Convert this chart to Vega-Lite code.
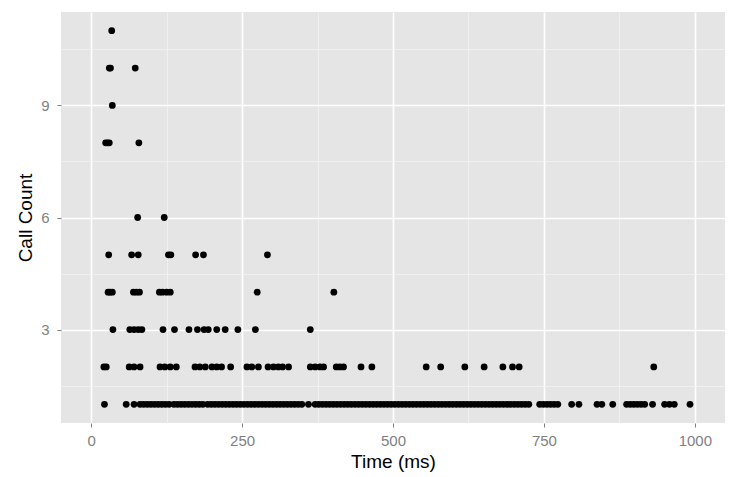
{
  "$schema": "https://vega.github.io/schema/vega-lite/v6.json",
  "width": 664,
  "height": 411,
  "autosize": "none",
  "padding": {"left": 61, "top": 12, "right": 20, "bottom": 54},
  "background": "white",
  "config": {
    "view": {"fill": "#E5E5E5", "stroke": null},
    "font": "Liberation Sans",
    "axis": {
      "domain": false,
      "tickColor": "#7F7F7F",
      "tickWidth": 1,
      "tickSize": 4,
      "labelColor": "#7F7F7F",
      "labelFont": "Liberation Sans",
      "labelFontSize": 15,
      "titleFont": "Liberation Sans",
      "titleFontSize": 19,
      "titleFontWeight": "normal",
      "titleColor": "#000000"
    }
  },
  "data": {
    "values": [
      {"t": 34, "c": 11},
      {"t": 30, "c": 10}, {"t": 32, "c": 10}, {"t": 73, "c": 10},
      {"t": 35, "c": 9},
      {"t": 24, "c": 8}, {"t": 27, "c": 8}, {"t": 30, "c": 8}, {"t": 79, "c": 8},
      {"t": 77, "c": 6}, {"t": 121, "c": 6},
      {"t": 29, "c": 5}, {"t": 67, "c": 5}, {"t": 78, "c": 5}, {"t": 128, "c": 5}, {"t": 132, "c": 5}, {"t": 173, "c": 5}, {"t": 186, "c": 5}, {"t": 292, "c": 5},
      {"t": 28, "c": 4}, {"t": 31, "c": 4}, {"t": 35, "c": 4}, {"t": 70, "c": 4}, {"t": 75, "c": 4}, {"t": 80, "c": 4}, {"t": 113, "c": 4}, {"t": 118, "c": 4}, {"t": 125, "c": 4}, {"t": 131, "c": 4}, {"t": 275, "c": 4}, {"t": 402, "c": 4},
      {"t": 36, "c": 3}, {"t": 64, "c": 3}, {"t": 71, "c": 3}, {"t": 78, "c": 3}, {"t": 84, "c": 3}, {"t": 119, "c": 3}, {"t": 138, "c": 3}, {"t": 162, "c": 3}, {"t": 176, "c": 3}, {"t": 187, "c": 3}, {"t": 194, "c": 3}, {"t": 208, "c": 3}, {"t": 222, "c": 3}, {"t": 243, "c": 3}, {"t": 272, "c": 3}, {"t": 363, "c": 3},
      {"t": 21, "c": 2}, {"t": 25, "c": 2}, {"t": 63, "c": 2}, {"t": 71, "c": 2}, {"t": 81, "c": 2}, {"t": 114, "c": 2}, {"t": 122, "c": 2}, {"t": 131, "c": 2}, {"t": 141, "c": 2}, {"t": 172, "c": 2}, {"t": 180, "c": 2}, {"t": 189, "c": 2}, {"t": 200, "c": 2}, {"t": 208, "c": 2}, {"t": 216, "c": 2}, {"t": 231, "c": 2}, {"t": 258, "c": 2}, {"t": 266, "c": 2}, {"t": 277, "c": 2}, {"t": 293, "c": 2}, {"t": 302, "c": 2}, {"t": 310, "c": 2}, {"t": 317, "c": 2}, {"t": 327, "c": 2}, {"t": 363, "c": 2}, {"t": 371, "c": 2}, {"t": 379, "c": 2}, {"t": 385, "c": 2}, {"t": 406, "c": 2}, {"t": 412, "c": 2}, {"t": 418, "c": 2}, {"t": 447, "c": 2}, {"t": 465, "c": 2}, {"t": 555, "c": 2}, {"t": 579, "c": 2}, {"t": 619, "c": 2}, {"t": 651, "c": 2}, {"t": 682, "c": 2}, {"t": 698, "c": 2}, {"t": 709, "c": 2}, {"t": 932, "c": 2},
      {"t": 22, "c": 1}, {"t": 58, "c": 1}, {"t": 71, "c": 1}, {"t": 81, "c": 1}, {"t": 87, "c": 1}, {"t": 93, "c": 1}, {"t": 99, "c": 1}, {"t": 105, "c": 1}, {"t": 111, "c": 1}, {"t": 117, "c": 1}, {"t": 123, "c": 1}, {"t": 129, "c": 1}, {"t": 137, "c": 1}, {"t": 143, "c": 1}, {"t": 149, "c": 1}, {"t": 155, "c": 1}, {"t": 161, "c": 1}, {"t": 167, "c": 1}, {"t": 173, "c": 1}, {"t": 179, "c": 1}, {"t": 185, "c": 1}, {"t": 193, "c": 1}, {"t": 199, "c": 1}, {"t": 205, "c": 1}, {"t": 211, "c": 1}, {"t": 217, "c": 1}, {"t": 223, "c": 1}, {"t": 229, "c": 1}, {"t": 235, "c": 1}, {"t": 241, "c": 1}, {"t": 247, "c": 1},
      {"t": 253, "c": 1}, {"t": 259, "c": 1}, {"t": 265, "c": 1}, {"t": 271, "c": 1}, {"t": 277, "c": 1}, {"t": 283, "c": 1}, {"t": 289, "c": 1}, {"t": 295, "c": 1}, {"t": 301, "c": 1}, {"t": 307, "c": 1}, {"t": 313, "c": 1}, {"t": 319, "c": 1}, {"t": 325, "c": 1}, {"t": 331, "c": 1}, {"t": 337, "c": 1}, {"t": 343, "c": 1}, {"t": 349, "c": 1}, {"t": 360, "c": 1}, {"t": 371, "c": 1}, {"t": 377, "c": 1}, {"t": 383, "c": 1}, {"t": 389, "c": 1}, {"t": 395, "c": 1}, {"t": 401, "c": 1}, {"t": 407, "c": 1}, {"t": 413, "c": 1}, {"t": 419, "c": 1}, {"t": 425, "c": 1}, {"t": 431, "c": 1}, {"t": 437, "c": 1}, {"t": 443, "c": 1}, {"t": 449, "c": 1}, {"t": 455, "c": 1}, {"t": 461, "c": 1}, {"t": 467, "c": 1}, {"t": 473, "c": 1}, {"t": 479, "c": 1}, {"t": 485, "c": 1}, {"t": 491, "c": 1}, {"t": 497, "c": 1}, {"t": 503, "c": 1}, {"t": 509, "c": 1}, {"t": 515, "c": 1}, {"t": 521, "c": 1}, {"t": 527, "c": 1}, {"t": 533, "c": 1}, {"t": 539, "c": 1}, {"t": 545, "c": 1}, {"t": 551, "c": 1}, {"t": 557, "c": 1}, {"t": 563, "c": 1}, {"t": 569, "c": 1}, {"t": 575, "c": 1}, {"t": 581, "c": 1}, {"t": 587, "c": 1}, {"t": 593, "c": 1}, {"t": 599, "c": 1}, {"t": 605, "c": 1}, {"t": 611, "c": 1}, {"t": 617, "c": 1}, {"t": 623, "c": 1}, {"t": 629, "c": 1}, {"t": 635, "c": 1}, {"t": 641, "c": 1}, {"t": 647, "c": 1}, {"t": 653, "c": 1}, {"t": 659, "c": 1}, {"t": 665, "c": 1}, {"t": 671, "c": 1}, {"t": 677, "c": 1}, {"t": 683, "c": 1}, {"t": 689, "c": 1}, {"t": 695, "c": 1}, {"t": 701, "c": 1}, {"t": 707, "c": 1}, {"t": 713, "c": 1}, {"t": 719, "c": 1}, {"t": 725, "c": 1},
      {"t": 743, "c": 1}, {"t": 749, "c": 1}, {"t": 755, "c": 1}, {"t": 761, "c": 1}, {"t": 767, "c": 1}, {"t": 773, "c": 1}, {"t": 796, "c": 1}, {"t": 808, "c": 1}, {"t": 838, "c": 1}, {"t": 846, "c": 1}, {"t": 864, "c": 1}, {"t": 887, "c": 1}, {"t": 893, "c": 1}, {"t": 899, "c": 1}, {"t": 905, "c": 1}, {"t": 911, "c": 1}, {"t": 917, "c": 1}, {"t": 930, "c": 1}, {"t": 950, "c": 1}, {"t": 958, "c": 1}, {"t": 966, "c": 1}, {"t": 992, "c": 1}
    ]
  },
  "mark": {"type": "circle", "size": 46, "color": "#000000", "opacity": 1},
  "encoding": {
    "x": {
      "field": "t",
      "type": "quantitative",
      "scale": {"domain": [-50, 1050], "nice": false, "zero": false},
      "axis": {
        "title": "Time (ms)",
        "values": [0, 125, 250, 375, 500, 625, 750, 875, 1000],
        "labelExpr": "datum.value % 250 === 0 ? format(datum.value, 'd') : ''",
        "labelPadding": 6,
        "titlePadding": 4,
        "grid": true,
        "gridColor": {"condition": {"test": "datum.value % 250 === 0", "value": "#FFFFFF"}, "value": "#F2F2F2"},
        "gridWidth": {"condition": {"test": "datum.value % 250 === 0", "value": 1.6}, "value": 0.8},
        "tickOpacity": {"condition": {"test": "datum.value % 250 === 0", "value": 1}, "value": 0}
      }
    },
    "y": {
      "field": "c",
      "type": "quantitative",
      "scale": {"domain": [0.5, 11.5], "nice": false, "zero": false},
      "axis": {
        "title": "Call Count",
        "values": [1.5, 3, 4.5, 6, 7.5, 9, 10.5],
        "labelExpr": "datum.value % 3 === 0 ? format(datum.value, 'd') : ''",
        "labelPadding": 8,
        "titlePadding": 5,
        "grid": true,
        "gridColor": {"condition": {"test": "datum.value % 3 === 0", "value": "#FFFFFF"}, "value": "#F2F2F2"},
        "gridWidth": {"condition": {"test": "datum.value % 3 === 0", "value": 1.6}, "value": 0.8},
        "tickOpacity": {"condition": {"test": "datum.value % 3 === 0", "value": 1}, "value": 0}
      }
    }
  }
}
